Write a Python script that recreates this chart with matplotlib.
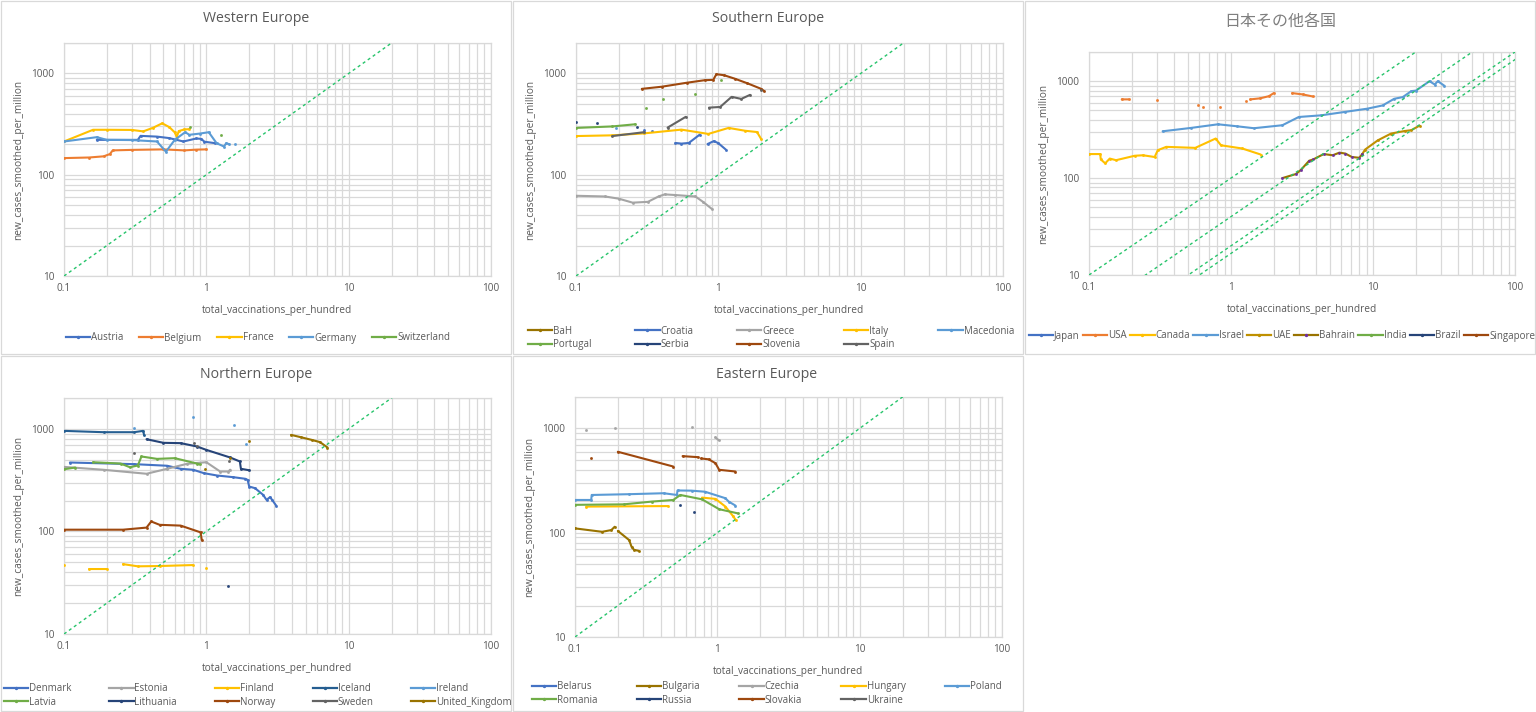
import numpy as np
import matplotlib
matplotlib.use("Agg")
import matplotlib.pyplot as plt
from matplotlib.patches import Rectangle
from matplotlib.lines import Line2D
from matplotlib.ticker import FixedLocator, NullFormatter, FixedFormatter

# ---------------- data ----------------
# Western Europe
austria_x = [0.17, 0.33, 0.345, 0.45, 0.55, 0.69, 0.85, 0.92, 0.97, 1.15]
austria_y = [221, 221, 242, 238, 230, 213, 228, 226, 212, 205]
belgium_x = [0.1, 0.15, 0.19, 0.21, 0.22, 0.3, 0.5, 0.7, 0.85, 1.0]
belgium_y = [146, 148, 152, 160, 174, 176, 178, 174, 177, 178]
france_x = [0.1, 0.16, 0.2, 0.3, 0.36, 0.42, 0.49, 0.55, 0.6, 0.62, 0.64, 0.7, 0.76]
france_y = [213, 278, 278, 277, 268, 290, 322, 295, 262, 236, 270, 280, 282]
germany_x = [0.1, 0.17, 0.2, 0.3, 0.45, 0.52, 0.6, 0.71, 0.76, 0.9, 1.04, 1.18, 1.33, 1.38, 1.45, None, 1.59]
germany_y = [213, 235, 221, 220, 213, 169, 221, 263, 248, 255, 263, 205, 190, 205, 200, None, 200]
switzerland_x = [0.77, None, 1.26]
switzerland_y = [295, None, 246]

# Southern Europe
bah_x, bah_y = [], []
croatia_x = [0.30, None, 0.34, None, 0.50, 0.55, 0.62, 0.74, None, 0.84, 0.93, 1.0, 1.13]
croatia_y = [275, None, 268, None, 206, 203, 206, 249, None, 201, 215, 205, 177]
greece_x = [0.1, 0.16, 0.2, 0.25, 0.32, 0.38, 0.42, 0.5, 0.69, 0.78, 0.9]
greece_y = [62, 61, 58, 53, 54, 61, 64, 63, 61, 54, 46]
italy_x = [0.1, 0.18, 0.3, 0.55, 0.85, 1.18, 1.54, 1.87, 2.0]
italy_y = [241, 245, 256, 279, 253, 290, 272, 264, 225]
macedonia_x = [0.19]
macedonia_y = [290]
portugal_x = [0.1, 0.18, 0.26, None, 0.31, None, 0.41, None, 0.69, None, 1.04]
portugal_y = [290, 300, 315, None, 454, None, 565, None, 634, None, 865]
serbia_x = [0.1, None, 0.14, None, 0.27]
serbia_y = [335, None, 327, None, 296]
slovenia_x = [0.29, 0.4, 0.6, 0.8, 0.92, 0.97, 1.1, 1.3, 1.6, 2.0, 2.1]
slovenia_y = [705, 740, 810, 858, 865, 985, 960, 890, 800, 705, 670]
spain_x = [0.18, 0.3, None, 0.44, 0.59, None, 0.86, 1.03, 1.24, 1.45, 1.67, None, 2.0]
spain_y = [241, 263, None, 292, 373, None, 460, 467, 588, 561, 615, None, 694]

# Japan and other countries
japan_x, japan_y = [], []
usa_x = [0.17, 0.19, None, 0.3, None, 0.59, None, 0.64, None, 0.83, None, 1.28, None,
         1.37, 1.6, 1.85, 2.0, None, 2.7, 3.2, 3.75]
usa_y = [649, 649, None, 640, None, 571, None, 545, None, 545, None, 623, None,
         649, 665, 700, 753, None, 753, 730, 696]
canada_x = [0.1, 0.12, 0.121, 0.13, 0.14, 0.155, 0.21, 0.24, 0.29, 0.305, 0.35, 0.56, 0.78, 0.85, 1.2, 1.62]
canada_y = [177, 177, 156, 142, 159, 153, 170, 172, 165, 194, 210, 205, 256, 218, 202, 175]
israel_x = [0.33, 0.52, 0.81, 1.11, 1.45, 2.3, 3.0, 4.3, 6.3, 9.1, 11.7, 14.1, 16.2, 18.6, 20.1, 25, 27.2, 28.6, 31.8]
israel_y = [304, 329, 359, 342, 327, 351, 427, 444, 481, 520, 562, 658, 685, 789, 800, 1000, 924, 1000, 897]
uae_x = [8.4, 8.8, 10.8, 13.4, 16.7, 18.6, 21.3]
uae_y = [177, 197, 245, 288, 306, 312, 348]
bahrain_x = [2.3, 2.86, 3.1, 3.55, 3.8, 4.5, 5.2, 5.8, 6.4, 7.1, 8.0, 8.4]
bahrain_y = [100, 110, 121, 151, 156, 177, 172, 183, 179, 165, 162, 177]
india_x, india_y = [], []
brazil_x, brazil_y = [], []
singapore_x, singapore_y = [], []

# Northern Europe
denmark_x = [0.11, 0.31, 0.53, 0.66, 0.81, 0.96, 1.19, 1.55, 1.88, 1.95, 2.0, 2.2, 2.5, 2.65, 2.8, 2.9, 3.1]
denmark_y = [470, 453, 437, 408, 399, 370, 351, 338, 326, 318, 274, 264, 228, 203, 216, 203, 178]
estonia_x = [0.1, 0.19, 0.38, 0.53, 0.73, 1.0, 1.25, 1.43, 1.47]
estonia_y = [426, 399, 365, 408, 456, 473, 384, 384, 400]
finland_x = [0.1, None, 0.15, 0.2, None, 0.26, 0.33, 0.47, 0.8, None, 1.0]
finland_y = [46.7, None, 43, 43, None, 48, 45.7, 46, 47, None, 44]
iceland_x = [0.1, 0.19, 0.31, 0.36, 0.365]
iceland_y = [956, 928, 928, 956, 874]
ireland_x = [0.31, None, 0.81, None, 1.57, None, 1.9]
ireland_y = [1030, None, 1300, None, 1085, None, 714]
latvia_x = [0.1, 0.12, None, 0.16, 0.25, 0.29, 0.33, 0.35, 0.45, 0.6, 0.86, 0.9]
latvia_y = [404, 420, None, 473, 459, 423, 439, 538, 510, 518, 459, 450]
lithuania_x = [0.38, 0.5, 0.66, 0.86, 1.0, 1.47, 1.72, 1.75, 2.0, None, 1.43]
lithuania_y = [793, 731, 726, 673, 624, 526, 481, 408, 395, None, 29.5]
norway_x = [0.1, 0.26, 0.38, 0.41, 0.47, 0.66, 0.91, 0.93]
norway_y = [104, 104, 109, 125, 116, 114, 98, 82]
sweden_x = [0.31, None, 0.82, None, 0.86, None, 1.45]
sweden_y = [580, None, 726, None, 688, None, 481]
uk_x = [0.98, None, 1.47, None, 2.0, None, 3.94, 4.6, 5.5, 6.3, 7.1]
uk_y = [404, None, 518, None, 758, None, 874, 830, 781, 742, 658]

# Eastern Europe
belarus_x, belarus_y = [], []
bulgaria_x = [0.1, 0.155, 0.18, 0.19, None, 0.2, 0.24, 0.25, 0.26, 0.28]
bulgaria_y = [110, 102, 106, 114, None, 104, 85, 73, 68.5, 67]
czechia_x = [0.12, None, 0.19, None, 0.66, None, 0.97, 1.02]
czechia_y = [964, None, 1000, None, 1037, None, 819, 772]
hungary_x = [0.12, 0.45, None, 0.78, 0.97, 1.14, 1.28, 1.35]
hungary_y = [178, 180, None, 217, 211, 178, 146, 132]
poland_x = [0.1, 0.13, 0.131, 0.24, 0.42, 0.52, 0.525, 0.66, 0.82, 1.14, 1.2, 1.34]
poland_y = [206, 206, 230, 234, 239, 230, 254, 253, 247, 214, 199, 182]
romania_x = [0.1, 0.22, 0.35, 0.49, 0.55, 0.78, 1.03, 1.4]
romania_y = [185, 187, 199, 206, 230, 209, 168, 153]
russia_x = [0.55, None, 0.69]
russia_y = [183, None, 157]
slovakia_x = [0.13, None, 0.2, 0.49, None, 0.57, 0.73, None, 0.77, 0.87, 0.97, 1.03, 1.34]
slovakia_y = [519, None, 597, 431, None, 542, 530, None, 515, 505, 464, 401, 386]
ukraine_x, ukraine_y = [], []

# reference lines y = k * x
diag_europe = [100]
diag_japan = [100, 40, 20, 16.7]

x_ticks = [0.1, 1, 10, 100]
x_tick_labels = ["0.1", "1", "10", "100"]
y_ticks = [10, 100, 1000]
y_tick_labels = ["10", "100", "1000"]

# ---------------- style ----------------
plt.rcParams["font.family"] = ["Open Sans", "Noto Sans CJK JP", "DejaVu Sans"]
TXT = "#595959"
GRID = "#D9D9D9"

W, H = 1536, 712
fig = plt.figure(figsize=(W / 100, H / 100), dpi=100)
fig.patch.set_facecolor("white")

# panel borders
for (x0, y0, x1, y1) in [(1, 1, 511, 354), (513, 1, 1023, 354), (1025, 1, 1535, 354),
                         (1, 356, 511, 711), (513, 356, 1023, 711)]:
    fig.patches.append(Rectangle((x0 / W, 1 - y1 / H), (x1 - x0) / W, (y1 - y0) / H,
                                 transform=fig.transFigure, fill=False,
                                 edgecolor="#D9D9D9", lw=0.9))


def axes_px(x0, y0, x1, y1):
    return fig.add_axes([x0 / W, 1 - y1 / H, (x1 - x0) / W, (y1 - y0) / H])


def to_arr(v):
    return np.array(v, dtype=float)


def row_major(items, ncol):
    """Reorder so matplotlib's column-major legend fill reads row by row."""
    n = len(items)
    nrows = -(-n // ncol)
    out = []
    for c in range(ncol):
        for r in range(nrows):
            i = r * ncol + c
            if i < n:
                out.append(items[i])
    return out


def make_panel(box, title, title_xy, series, diags, legend_spec, title_kw=None):
    ax = axes_px(*box)
    ax.set_xscale("log")
    ax.set_yscale("log")
    ax.set_xlim(0.1, 100)
    ax.set_ylim(10, 2000)
    ax.xaxis.set_major_locator(FixedLocator(x_ticks))
    ax.xaxis.set_major_formatter(FixedFormatter(x_tick_labels))
    ax.yaxis.set_major_locator(FixedLocator(y_ticks))
    ax.yaxis.set_major_formatter(FixedFormatter(y_tick_labels))
    xmin = [m * d for d in [0.1, 1, 10] for m in range(2, 10)]
    ymin = [m * d for d in [10, 100] for m in range(2, 10)] + [2000]
    ax.xaxis.set_minor_locator(FixedLocator(xmin))
    ax.yaxis.set_minor_locator(FixedLocator(ymin))
    ax.xaxis.set_minor_formatter(NullFormatter())
    ax.yaxis.set_minor_formatter(NullFormatter())
    ax.grid(which="both", color=GRID, lw=0.9)
    ax.set_axisbelow(True)
    for s in ax.spines.values():
        s.set_color(GRID)
        s.set_linewidth(0.9)
    ax.tick_params(which="both", length=0, labelsize=7.2, labelcolor=TXT)
    ax.tick_params(axis="x", pad=5)
    ax.tick_params(axis="y", pad=7)
    hpx = box[3] - box[1]
    wpx = box[2] - box[0]
    ax.set_xlabel("total_vaccinations_per_hundred", fontsize=7.3, color=TXT)
    ax.set_ylabel("new_cases_smoothed_per_million", fontsize=7.3, color=TXT)
    ax.xaxis.set_label_coords(0.5, -29 / hpx)
    ax.yaxis.set_label_coords(-40 / wpx, 0.5)

    handles = []
    for name, xs, ys, col, mcol in series:
        ax.plot(to_arr(xs), to_arr(ys), color=col, lw=1.5, marker="o", ms=1.5,
                mfc=mcol, mec=mcol, mew=0.5, solid_joinstyle="round",
                solid_capstyle="round", zorder=3)
        handles.append(Line2D([], [], color=col, lw=1.6, marker="o", ms=1.4,
                              mfc=mcol, mec=mcol))
    xr = to_arr([0.1, 1000])
    for k in diags:
        ax.plot(xr, k * xr, color="#27C46B", lw=1.0, ls=(0, (2.2, 2.2)), zorder=4)

    kw = dict(fontsize=10.2, color=TXT)
    if title_kw:
        kw.update(title_kw)
    fig.text(title_xy[0] / W, 1 - title_xy[1] / H, title, ha="center", va="center", **kw)

    bx, by, bw, bh, ncol, expand, csp = legend_spec
    labels = [s[0] for s in series]
    leg = fig.legend(row_major(handles, ncol), row_major(labels, ncol), loc="center",
                     bbox_to_anchor=(bx / W, 1 - (by + bh) / H, bw / W, bh / H),
                     ncol=ncol, mode="expand" if expand else None, frameon=False,
                     fontsize=7, handlelength=2.5, handletextpad=0.1,
                     columnspacing=csp, labelspacing=0.25, borderaxespad=0,
                     borderpad=0)
    for t in leg.get_texts():
        t.set_color(TXT)
    return ax


C_BLUE = "#4472C4"
C_ORANGE = "#ED7D31"
C_GRAY = "#A5A5A5"
C_GOLD = "#FFC000"
C_LBLUE = "#5B9BD5"
C_GREEN = "#70AD47"
C_NAVY = "#264478"
C_BROWN = "#9E480E"
C_DGRAY = "#636363"
C_DGOLD = "#997300"
C_STEEL = "#255E91"

west = [("Austria", austria_x, austria_y, C_BLUE, C_BLUE),
        ("Belgium", belgium_x, belgium_y, C_ORANGE, C_ORANGE),
        ("France", france_x, france_y, C_GOLD, C_GOLD),
        ("Germany", germany_x, germany_y, C_LBLUE, C_LBLUE),
        ("Switzerland", switzerland_x, switzerland_y, C_GREEN, C_GREEN)]
south = [("BaH", bah_x, bah_y, C_DGOLD, C_DGOLD),
         ("Croatia", croatia_x, croatia_y, C_BLUE, C_BLUE),
         ("Greece", greece_x, greece_y, C_GRAY, C_GRAY),
         ("Italy", italy_x, italy_y, C_GOLD, C_GOLD),
         ("Macedonia", macedonia_x, macedonia_y, C_LBLUE, C_LBLUE),
         ("Portugal", portugal_x, portugal_y, C_GREEN, C_GREEN),
         ("Serbia", serbia_x, serbia_y, C_NAVY, C_NAVY),
         ("Slovenia", slovenia_x, slovenia_y, C_BROWN, C_BROWN),
         ("Spain", spain_x, spain_y, C_DGRAY, C_DGRAY)]
japan = [("Japan", japan_x, japan_y, C_BLUE, C_BLUE),
         ("USA", usa_x, usa_y, C_ORANGE, C_ORANGE),
         ("Canada", canada_x, canada_y, C_GOLD, C_GOLD),
         ("Israel", israel_x, israel_y, C_LBLUE, C_LBLUE),
         ("UAE", uae_x, uae_y, "#BF9000", "#BF9000"),
         ("Bahrain", bahrain_x, bahrain_y, C_DGOLD, "#7030A0"),
         ("India", india_x, india_y, C_GREEN, C_GREEN),
         ("Brazil", brazil_x, brazil_y, C_NAVY, C_NAVY),
         ("Singapore", singapore_x, singapore_y, C_BROWN, C_BROWN)]
north = [("Denmark", denmark_x, denmark_y, C_BLUE, C_BLUE),
         ("Estonia", estonia_x, estonia_y, C_GRAY, C_GRAY),
         ("Finland", finland_x, finland_y, C_GOLD, C_GOLD),
         ("Iceland", iceland_x, iceland_y, C_STEEL, C_STEEL),
         ("Ireland", ireland_x, ireland_y, C_LBLUE, C_LBLUE),
         ("Latvia", latvia_x, latvia_y, C_GREEN, C_GREEN),
         ("Lithuania", lithuania_x, lithuania_y, C_NAVY, C_NAVY),
         ("Norway", norway_x, norway_y, C_BROWN, C_BROWN),
         ("Sweden", sweden_x, sweden_y, C_DGRAY, C_DGRAY),
         ("United_Kingdom", uk_x, uk_y, C_DGOLD, C_DGOLD)]
east = [("Belarus", belarus_x, belarus_y, C_BLUE, C_BLUE),
        ("Bulgaria", bulgaria_x, bulgaria_y, C_DGOLD, C_DGOLD),
        ("Czechia", czechia_x, czechia_y, C_GRAY, C_GRAY),
        ("Hungary", hungary_x, hungary_y, C_GOLD, C_GOLD),
        ("Poland", poland_x, poland_y, C_LBLUE, C_LBLUE),
        ("Romania", romania_x, romania_y, C_GREEN, C_GREEN),
        ("Russia", russia_x, russia_y, C_NAVY, C_NAVY),
        ("Slovakia", slovakia_x, slovakia_y, C_BROWN, C_BROWN),
        ("Ukraine", ukraine_x, ukraine_y, C_DGRAY, C_DGRAY)]

make_panel((64, 43, 491, 276), "Western Europe", (256, 19), west, diag_europe,
           (70, 330, 376, 16, 5, False, 1.6))
make_panel((576, 43, 1003, 276), "Southern Europe", (768, 19), south, diag_europe,
           (528, 322, 486, 32, 5, True, 1.0))
make_panel((1089, 52, 1515, 275), "日本その他各国", (1280, 22), japan, diag_japan,
           (1029, 328, 506, 16, 9, True, 0.3),
           title_kw=dict(family=["Noto Sans CJK JP"], fontsize=11.5, color="#7F7F7F"))
make_panel((64, 398, 491, 634), "Northern Europe", (256, 374), north, diag_europe,
           (4, 680, 508, 31, 5, True, 1.0))
make_panel((575, 397, 1002, 637), "Eastern Europe", (767, 374), east, diag_europe,
           (532, 678, 470, 31, 5, True, 1.0))

fig.savefig("out.png", dpi=100, facecolor="white")
